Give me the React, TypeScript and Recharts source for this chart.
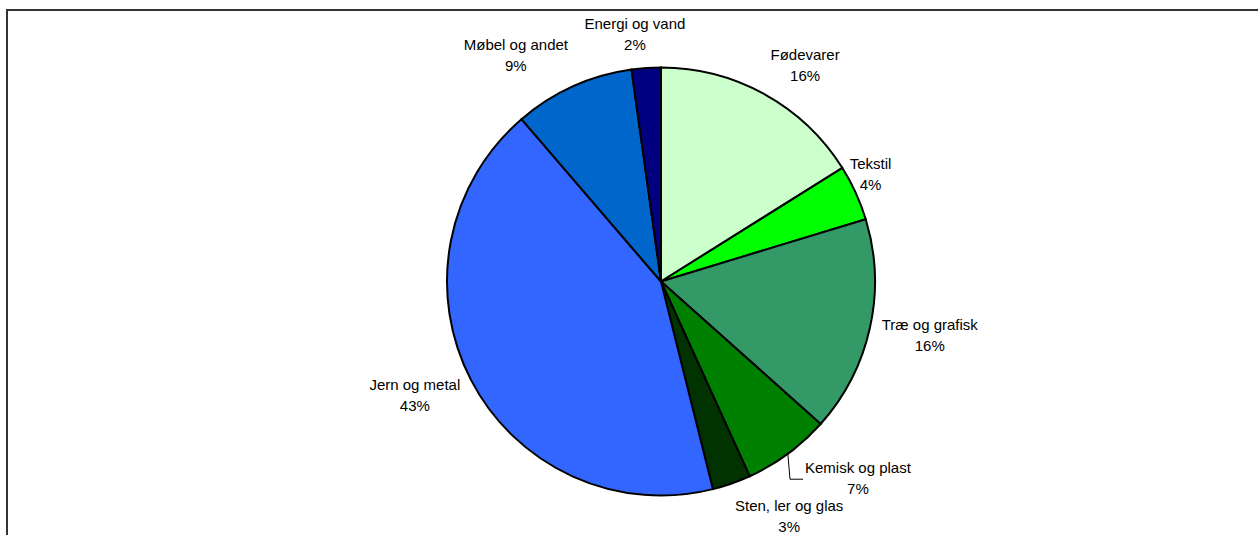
import { Cell, Pie, PieChart } from 'recharts'

const categories = [
  'Fødevarer',
  'Tekstil',
  'Træ og grafisk',
  'Kemisk og plast',
  'Sten, ler og glas',
  'Jern og metal',
  'Møbel og andet',
  'Energi og vand',
]
const shares = [16.1, 4.2, 16.3, 6.6, 2.9, 42.6, 9.1, 2.2]
const sliceColors = ['#CCFFCC', '#00FF00', '#339966', '#008000', '#003300', '#3366FF', '#0066CC', '#000080']

const data = categories.map((name, i) => ({ name, value: shares[i] }))

// labels that were dragged away from their default spot in the original
const labelNudge: Record<string, [number, number]> = {
  Tekstil: [-17, -5],
  'Kemisk og plast': [10, -3],
}
const withLeader = ['Kemisk og plast']

const FONT = '"Liberation Sans", Arial, sans-serif'
const RADIAN = Math.PI / 180

let ctx: CanvasRenderingContext2D | null = null
function textWidth(s: string) {
  if (!ctx) ctx = document.createElement('canvas').getContext('2d')
  if (!ctx) return s.length * 7
  ctx.font = `15px ${FONT}`
  return ctx.measureText(s).width
}

function renderLabel(props: any) {
  const { cx, cy, midAngle, outerRadius, percent, index } = props
  const name = categories[index]
  const pct = `${Math.round(percent * 100)}%`
  // angle measured clockwise from 12 o'clock
  const s = Math.cos(-midAngle * RADIAN)
  const c = -Math.sin(-midAngle * RADIAN)
  const r = outerRadius + 12
  const px = cx + r * s
  const py = cy - r * c
  const w = Math.max(textWidth(name), textWidth(pct))
  const k = Math.max(-1, Math.min(1, s * 3))
  const [nx, ny] = labelNudge[name] ?? [0, 0]
  const lx = px + (k * w) / 2 + nx
  const centerY = py - (c * 44) / 2
  const b1 = centerY - 5 + ny
  let leader = null
  if (withLeader.includes(name)) {
    const ex = cx + outerRadius * s
    const ey = cy - outerRadius * c
    const left = lx - textWidth(name) / 2
    leader = (
      <polyline
        points={`${ex},${ey} ${left - 15},${b1 + 6} ${left - 2},${b1 + 6}`}
        fill="none"
        stroke="#000"
        strokeWidth={1}
      />
    )
  }
  return (
    <g key={`lbl-${index}`}>
      {leader}
      <text x={lx} y={b1} textAnchor="middle" fontFamily={FONT} fontSize={15} fill="#000">
        <tspan x={lx} y={b1}>{name}</tspan>
        <tspan x={lx} y={b1 + 21}>{pct}</tspan>
      </text>
    </g>
  )
}

export default function App() {
  return (
    <div style={{ position: 'absolute', left: 0, top: 0, width: 1258, height: 535, overflow: 'hidden', background: '#fff' }}>
      <div
        style={{
          position: 'absolute',
          left: 6,
          top: 9,
          width: 1400,
          height: 700,
          borderTop: '2px solid #333',
          borderLeft: '2px solid #333',
        }}
      />
      <div style={{ position: 'absolute', left: 0, top: 0 }}>
        <PieChart width={1258} height={535} margin={{ top: 0, right: 0, bottom: 0, left: 0 }}>
          <Pie
            data={data}
            dataKey="value"
            nameKey="name"
            cx={661}
            cy={281.5}
            outerRadius={214}
            startAngle={90}
            endAngle={-270}
            stroke="#000"
            strokeWidth={2}
            label={renderLabel}
            labelLine={false}
            isAnimationActive={false}
          >
            {data.map((d, i) => (
              <Cell key={d.name} fill={sliceColors[i]} />
            ))}
          </Pie>
        </PieChart>
      </div>
    </div>
  )
}
